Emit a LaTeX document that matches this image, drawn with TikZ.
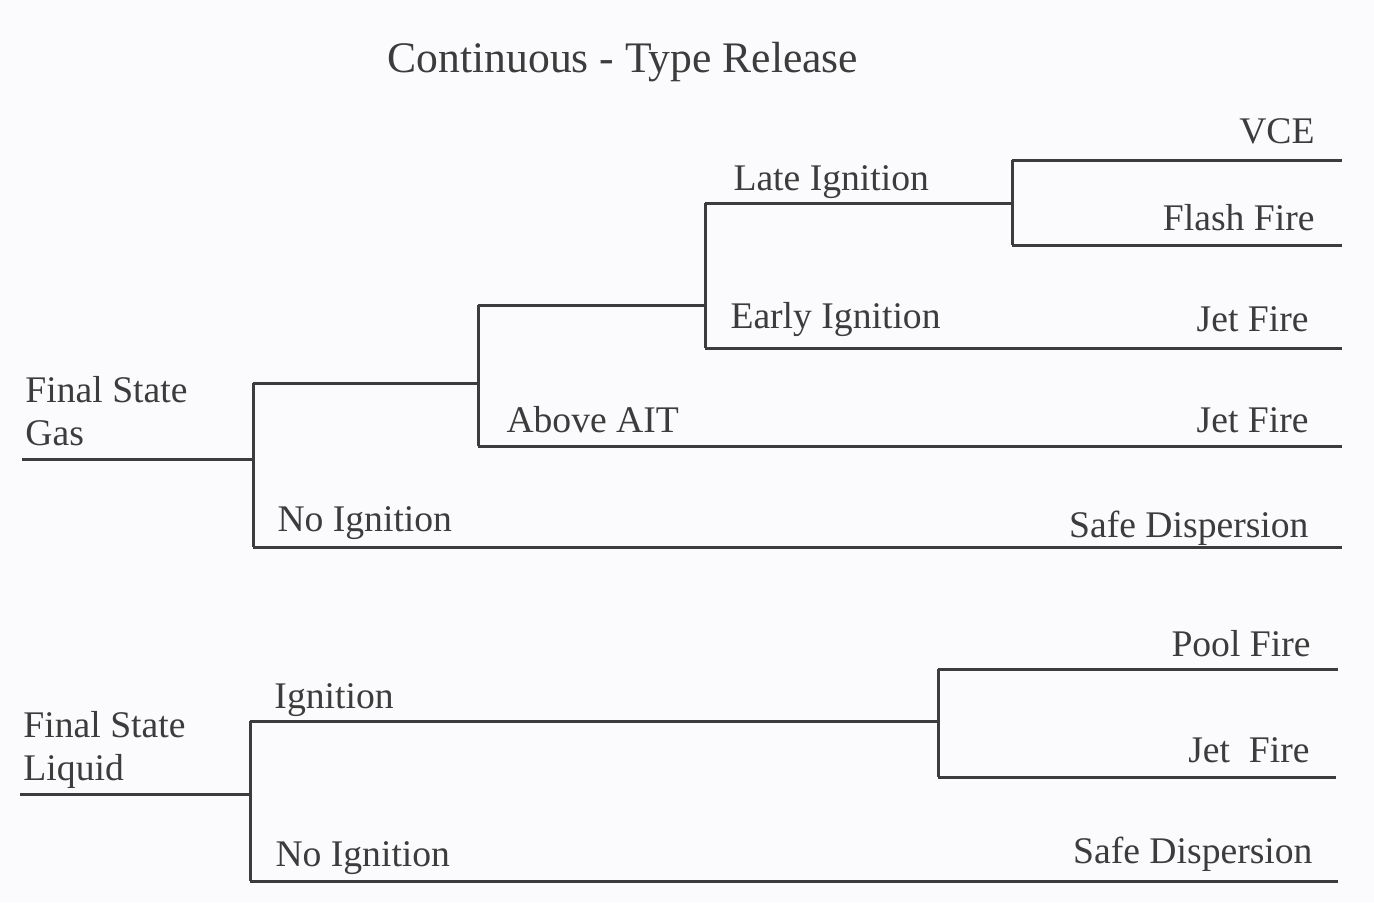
\documentclass[tikz,border=0pt]{standalone}
\usepackage{fontspec}
\setmainfont{Liberation Serif}
\usepackage{tikz}
\definecolor{ink}{HTML}{3C3C3C}
\definecolor{paper}{HTML}{FBFBFD}

\begin{document}
\begin{tikzpicture}[x=0.01cm,y=-0.01cm, line width=0.85pt,
        lbl/.style={inner sep=0pt, text=ink, anchor=base west, font=\fontsize{10.7}{12}\selectfont},
        res/.style={lbl, anchor=base east}]
    \fill[paper] (0,0) rectangle (1374,902);
    \useasboundingbox (0,0) rectangle (1374,902);
    \node[inner sep=0pt, text=ink, anchor=base, font=\fontsize{12.4}{14}\selectfont] (title) at (623,72) {Continuous - Type Release};

    % final state gas
    \coordinate (gs) at (22,459);
    \coordinate (gf) at (253,459);
    \coordinate (gu) at (253,383);
    \coordinate (gd) at (253,547);
    \coordinate (ic) at (478,383);
    \coordinate (iu) at (478,305);
    \coordinate (id) at (478,446);
    \coordinate (lc) at (705,305);
    \coordinate (lu) at (705,203);
    \coordinate (ld) at (705,348);
    \coordinate (vc) at (1012,203);
    \coordinate (vu) at (1012,160);
    \coordinate (vd) at (1012,245);
    \coordinate (ve) at (1342,160);
    \coordinate (fe) at (1342,245);
    \coordinate (ee) at (1342,348);
    \coordinate (ae) at (1342,446);
    \coordinate (ne) at (1342,547);
    \node[lbl] (gas1) at (24,402) {Final State};
    \node[lbl] (gas2) at (24,445) {Gas};
    \node[lbl] (late) at (732,190) {Late Ignition};
    \node[lbl] (early) at (729,328) {Early Ignition};
    \node[lbl] (ait) at (505,432) {Above AIT};
    \node[lbl] (noign) at (276,531) {No Ignition};
    \node[res] (vce) at (1316,143) {VCE};
    \node[res] (flash) at (1316,230) {Flash Fire};
    \node[res] (jet1) at (1310,331) {Jet Fire};
    \node[res] (jet2) at (1310,432) {Jet Fire};
    \node[res] (safe1) at (1310,537) {Safe Dispersion};
    \draw[ink] (gs) -- (gf);
    \draw[ink] (gu) -- (gd);
    \draw[ink] (gu) -- (ic);
    \draw[ink] (gd) -- (ne);
    \draw[ink] (iu) -- (id);
    \draw[ink] (id) -- (ae);
    \draw[ink] (iu) -- (lc);
    \draw[ink] (lu) -- (ld);
    \draw[ink] (ld) -- (ee);
    \draw[ink] (lu) -- (vc);
    \draw[ink] (vu) -- (vd);
    \draw[ink] (vu) -- (ve);
    \draw[ink] (vd) -- (fe);

    % final state liquid
    \coordinate (ls) at (20,794);
    \coordinate (lf) at (250,794);
    \coordinate (lq) at (250,721);
    \coordinate (lr) at (250,881);
    \coordinate (pc) at (938,721);
    \coordinate (pu) at (938,669);
    \coordinate (pd) at (938,777);
    \coordinate (pe) at (1338,669);
    \coordinate (je) at (1336,777);
    \coordinate (se) at (1338,881);
    \node[lbl] (liq1) at (22,737) {Final State};
    \node[lbl] (liq2) at (22,780) {Liquid};
    \node[lbl] (ign) at (273,708) {Ignition};
    \node[lbl] (noign2) at (274,866) {No Ignition};
    \node[res] (pool) at (1312,656) {Pool Fire};
    \node[res] (jet3) at (1311,762) {Jet\ \ Fire};
    \node[res] (safe2) at (1314,863) {Safe Dispersion};
    \draw[ink] (ls) -- (lf);
    \draw[ink] (lq) -- (lr);
    \draw[ink] (lq) -- (pc);
    \draw[ink] (pu) -- (pd);
    \draw[ink] (pu) -- (pe);
    \draw[ink] (pd) -- (je);
    \draw[ink] (lr) -- (se);
\end{tikzpicture}
\end{document}
